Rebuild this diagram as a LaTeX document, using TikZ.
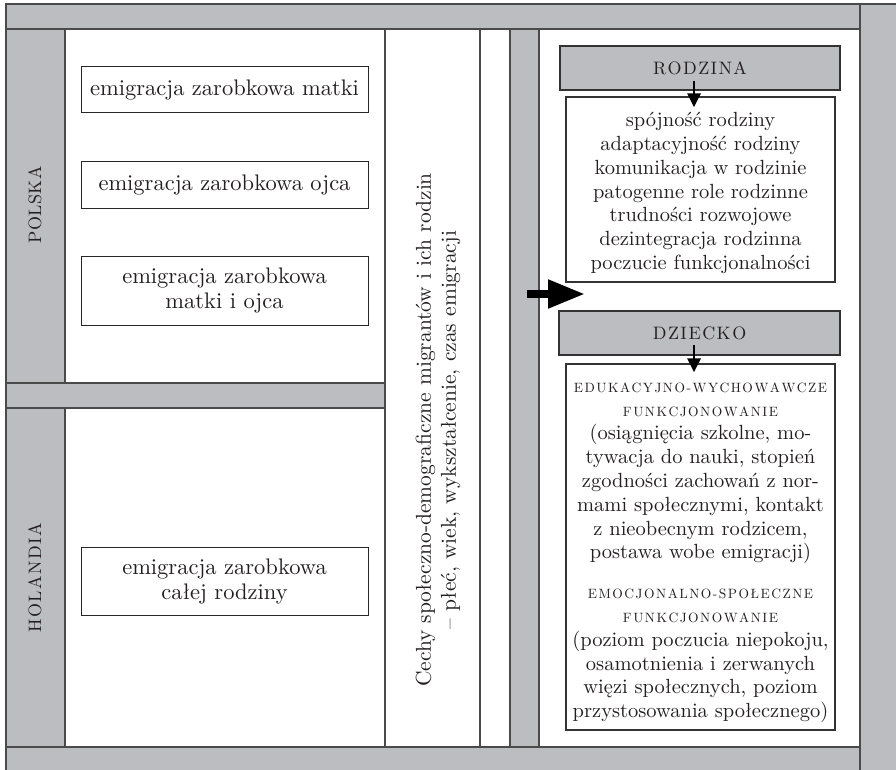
\documentclass[tikz,border=0pt]{standalone}
\usepackage{fontspec}
\setmainfont{lmroman10-regular}[Extension=.otf]
\usetikzlibrary{arrows.meta,calc}
\definecolor{bandgray}{HTML}{BCBDC0}
\definecolor{linec}{HTML}{4A4A4A}
\definecolor{txt}{HTML}{231F20}
\newlength{\spk}
\def\spacedaux#1{\ifx#1\relax\kern-\spk\else#1\kern\spk\expandafter\spacedaux\fi}
\newcommand{\spacedtext}[2]{\setlength{\spk}{#1}\spacedaux#2\relax}
\newcommand{\fsc}[1]{{\fontsize{13.5}{23.8}\selectfont\spacedtext{1.5pt}{#1}}}
\tikzset{
  band/.style={fill=bandgray, draw=linec, line width=1.3pt},
  cell/.style={fill=white, draw=linec, line width=1.3pt},
  sidelabel/.style={rotate=90, inner sep=0pt, text=txt, font=\fontsize{18}{20}\selectfont},
  leftbox/.style={draw=black!85, fill=white, line width=1pt, minimum width=287pt,
    inner sep=0pt, align=center, text=txt, font=\fontsize{22.5}{25}\selectfont},
  header/.style={fill=bandgray, draw=black!80, line width=1.4pt, minimum width=280pt,
    minimum height=44pt, inner sep=0pt, text=txt, font=\fontsize{18}{20}\selectfont},
  listbox/.style={draw=black!80, fill=white, line width=1.2pt, minimum width=269pt, inner sep=0pt},
  listtext/.style={align=center, inner sep=0pt, text=txt, font=\fontsize{20.5}{23.8}\selectfont},
  thinarrow/.style={draw=black, line width=2.8pt, -{Triangle[length=14pt,width=13pt]}},
  bigarrow/.style={draw=black, line width=8pt, -{Triangle[length=37pt,width=27pt]}},
}
\begin{document}
\begin{tikzpicture}[x=1pt,y=-1pt]
\useasboundingbox (0,0) rectangle (896,770);
% frame
\path[band] (860,4) rectangle (910,780);
\path[band] (6,4) rectangle (860,29);
\path[band] (6,747) rectangle (860,780);
\path[band] (6,29) rectangle (65,383);
\path[band] (6,383) rectangle (385,408);
\path[band] (6,408) rectangle (65,747);
\path[cell] (65,29) rectangle (385,383);
\path[cell] (65,408) rectangle (385,747);
\path[cell] (385,29) rectangle (480,747);
\path[cell] (480,29) rectangle (510,747);
\path[band] (510,29) rectangle (539,747);
\path[cell] (539,29) rectangle (860,747);
% side labels
\node[sidelabel] (polska) at (35,205) {\spacedtext{0.4pt}{POLSKA}};
\node[sidelabel] (holandia) at (35,578) {\spacedtext{1.4pt}{HOLANDIA}};
% left boxes
\node[leftbox, minimum height=46pt] (matki) at (224.5,90) {emigracja zarobkowa matki};
\node[leftbox, minimum height=46pt] (ojca) at (224.5,185) {emigracja zarobkowa ojca};
\node[leftbox, minimum height=69pt] (oboje) at (224.5,290.5) {emigracja zarobkowa\\matki i ojca};
\node[leftbox, minimum height=68pt] (calej) at (224.5,581) {emigracja zarobkowa\\całej rodziny};
% rotated middle text
\node[rotate=90, align=center, inner sep=0pt, text=txt, font=\fontsize{21.5}{25}\selectfont] (cechy) at (438,430)
  {Cechy społeczno-demograficzne migrantów i ich rodzin\\– płeć, wiek, wykształcenie, czas emigracji};
% right side
\node[header] (rodzina) at (700,68) {\spacedtext{1.4pt}{RODZINA}};
\node[listbox, minimum height=185pt] (rlist) at (700.5,189.5) {};
\node[listtext] (rtext) at (700.5,193) {spójność rodziny\\adaptacyjność rodziny\\komunikacja w rodzinie\\patogenne role rodzinne\\trudności rozwojowe\\dezintegracja rodzinna\\poczucie funkcjonalności};
\node[header, minimum width=281pt] (dziecko) at (699.5,333) {\spacedtext{1.5pt}{DZIECKO}};
\node[listbox, minimum height=366pt] (dlist) at (700.5,547) {};
\node[listtext, anchor=north] (dtext) at (700.5,382.5)
  {\fsc{EDUKACYJNO-WYCHOWAWCZE}\\\fsc{FUNKCJONOWANIE}\\(osiągnięcia szkolne, mo-\\tywacja do nauki, stopień\\zgodności zachowań z nor-\\mami społecznymi, kontakt\\z nieobecnym rodzicem,\\postawa wobe emigracji)\\[16pt]\fsc{EMOCJONALNO-SPOŁECZNE}\\\fsc{FUNKCJONOWANIE}\\(poziom poczucia niepokoju,\\osamotnienia i zerwanych\\więzi społecznych, poziom\\przystosowania społecznego)};
% arrows
\draw[thinarrow] ($(rodzina.south)+(-6,-10)$) -- ($(rlist.north)+(-6.5,11)$);
\draw[thinarrow] ($(dziecko.south)+(-5.5,-11)$) -- ($(dlist.north)+(-6.5,9)$);
\coordinate (bigA) at (527,294);
\coordinate (bigB) at (585,294);
\draw[bigarrow] (bigA) -- (bigB);
\end{tikzpicture}
\end{document}
